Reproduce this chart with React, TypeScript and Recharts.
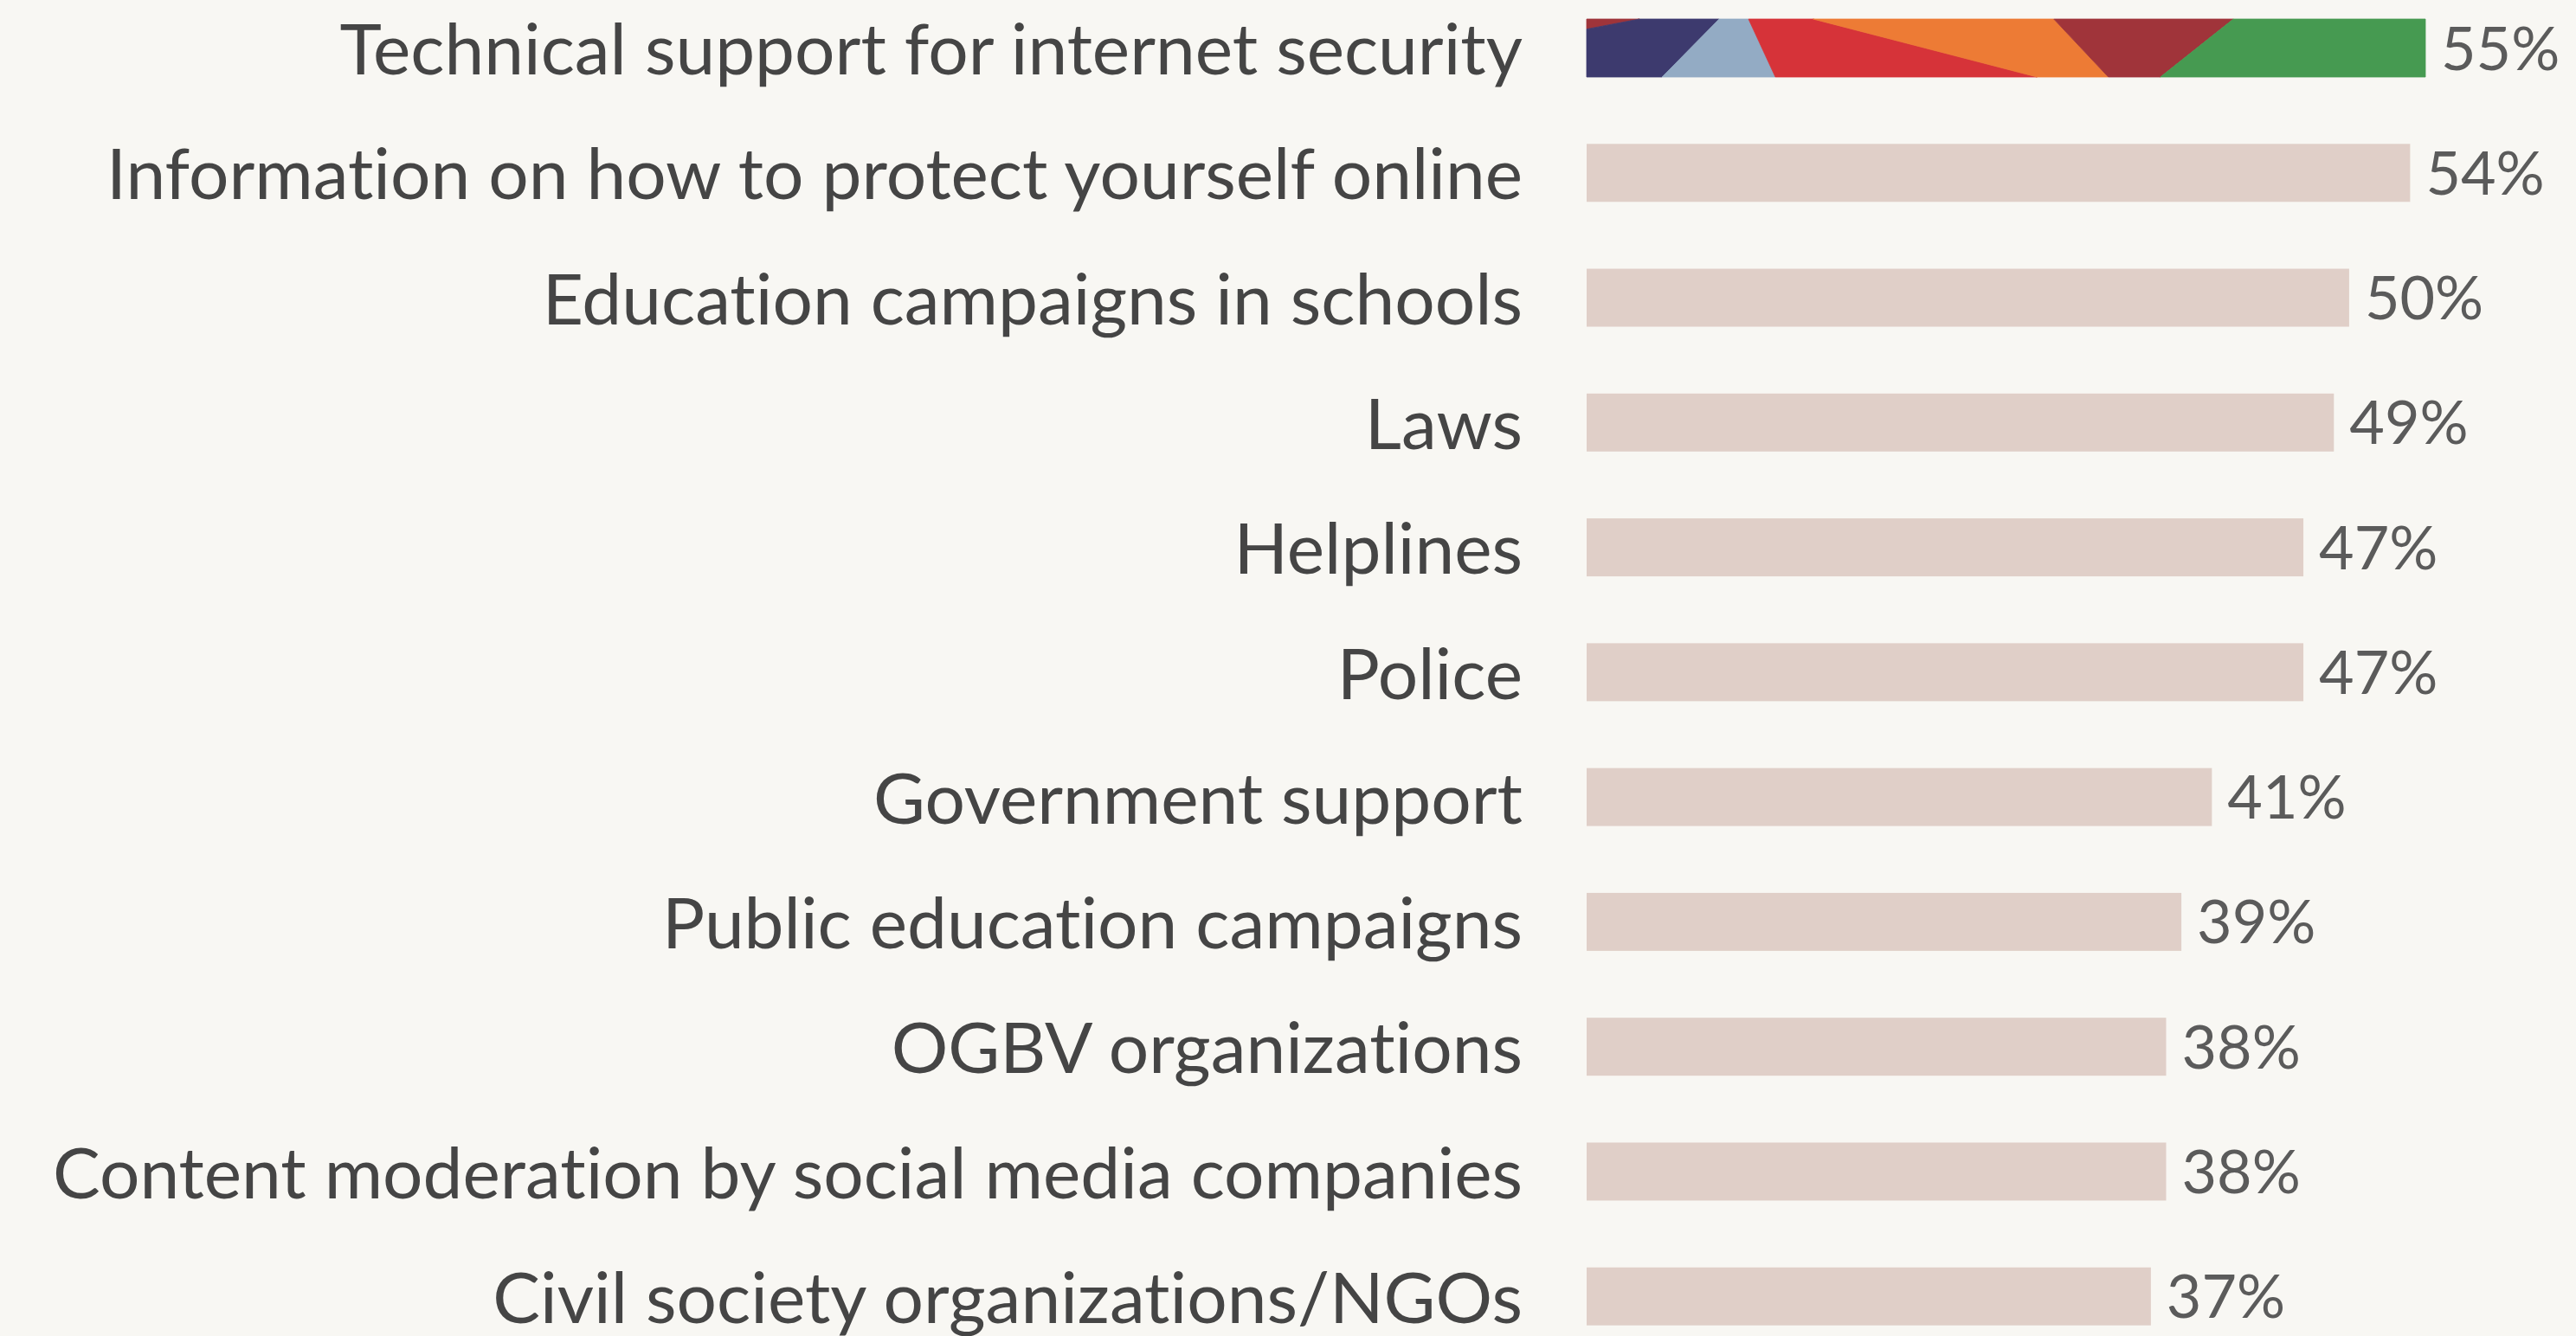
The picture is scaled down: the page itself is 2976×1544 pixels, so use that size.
import { Bar, BarChart, LabelList, XAxis, YAxis } from "recharts";

const categories = [
  "Technical support for internet security",
  "Information on how to protect yourself online",
  "Education campaigns in schools",
  "Laws",
  "Helplines",
  "Police",
  "Government support",
  "Public education campaigns",
  "OGBV organizations",
  "Content moderation by social media companies",
  "Civil society organizations/NGOs",
];

const shares = [55, 54, 50, 49, 47, 47, 41, 39, 38, 38, 37];

const data = categories.map((name, i) => ({ name, value: shares[i] }));

const BG = "#f8f7f3";
const BAR = "#e0cfc8";
const TEXT = "#454545";
const VALUE = "#5b5b5b";
const FONT = "Lato, 'Noto Sans', sans-serif";

// decorative stripes on the top bar, as fractions of the bar box
const stripes: { color: string; pts: [number, number][] }[] = [
  { color: "#9f343a", pts: [[0, 0], [0.063, 0], [0, 0.174]] },
  { color: "#3d3a6e", pts: [[0.063, 0], [0.158, 0], [0.09, 1], [0, 1], [0, 0.174]] },
  { color: "#93abc4", pts: [[0.158, 0], [0.193, 0], [0.225, 1], [0.09, 1]] },
  { color: "#d63339", pts: [[0.193, 0], [0.27, 0], [0.537, 1], [0.225, 1]] },
  { color: "#ed7b35", pts: [[0.27, 0], [0.557, 0], [0.622, 1], [0.537, 1]] },
  { color: "#a0343a", pts: [[0.557, 0], [0.771, 0], [0.684, 1], [0.622, 1]] },
  { color: "#469a51", pts: [[0.771, 0], [1, 0], [1, 1], [0.684, 1]] },
];

const BarShape = (props: any) => {
  const { x, y, width, height, index } = props;
  if (index !== 0) {
    return <rect x={x} y={y} width={width} height={height} fill={BAR} />;
  }
  return (
    <g>
      {stripes.map((s) => (
        <polygon
          key={s.color + s.pts[0][0]}
          points={s.pts.map(([fx, fy]) => `${x + fx * width},${y + fy * height}`).join(" ")}
          fill={s.color}
          stroke={s.color}
          strokeWidth={0.8}
        />
      ))}
    </g>
  );
};

const CategoryTick = (props: any) => {
  const { x, y, payload } = props;
  return (
    <text
      x={x}
      y={y}
      dy={31}
      textAnchor="end"
      fill={TEXT}
      fontFamily={FONT}
      fontSize={82}
      style={{ fontVariantLigatures: "none" }}
    >
      {payload.value}
    </text>
  );
};

const ValueLabel = (props: any) => {
  const { x, y, width, height, value } = props;
  return (
    <text
      x={x + width + 18}
      y={y + height / 2}
      dy={25}
      fill={VALUE}
      fontFamily={FONT}
      fontSize={70}
    >
      {value}%
    </text>
  );
};

export default function App() {
  return (
    <div
      style={{
        position: "fixed",
        left: 0,
        top: 0,
        width: 2976,
        height: 1544,
        background: BG,
        overflow: "hidden",
      }}
    >
      <div style={{ position: "absolute", left: 0, top: -17 }}>
        <BarChart
          width={2976}
          height={1587}
          data={data}
          layout="vertical"
          margin={{ top: 0, right: 174, bottom: 0, left: 0 }}
        >
          <XAxis type="number" domain={[0, 55]} hide />
          <YAxis
            type="category"
            dataKey="name"
            width={1833}
            axisLine={false}
            tickLine={false}
            tickMargin={68}
            tick={<CategoryTick />}
            interval={0}
          />
          <Bar
            dataKey="value"
            barSize={67}
            shape={<BarShape />}
            isAnimationActive={false}
          >
            <LabelList dataKey="value" content={<ValueLabel />} />
          </Bar>
        </BarChart>
      </div>
    </div>
  );
}
